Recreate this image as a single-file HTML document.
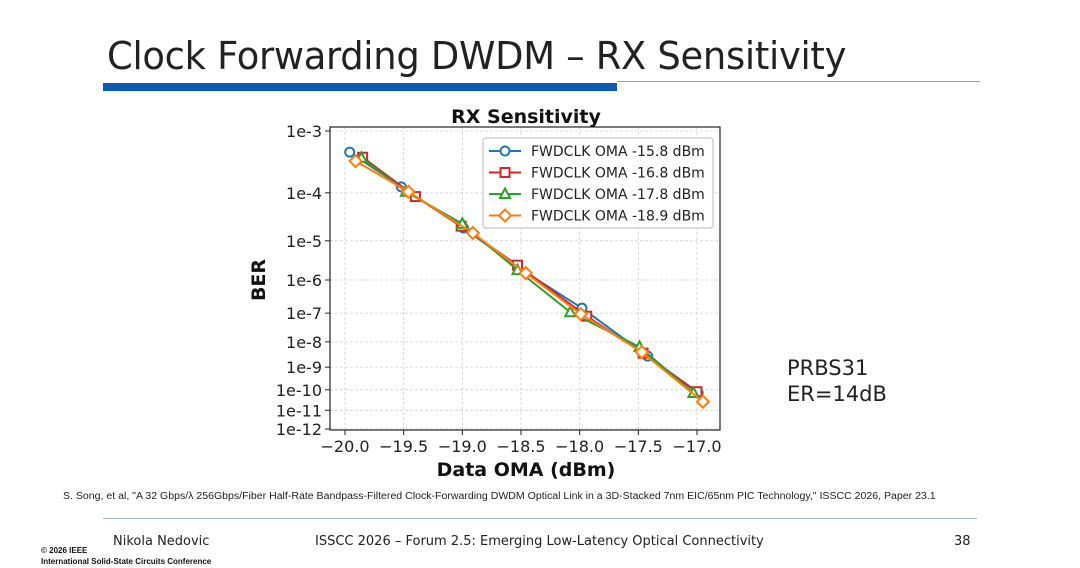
<!DOCTYPE html>
<html><head><meta charset="utf-8">
<style>
body{margin:0;width:1080px;height:568px;background:#fff;overflow:hidden;font-family:"Liberation Sans","DejaVu Sans",sans-serif;position:relative}
.a{position:absolute;white-space:nowrap}
</style></head><body>
<div class="a" style="left:107px;top:34px;font-size:38px;color:#222;font-family:'DejaVu Sans',sans-serif;letter-spacing:-0.3px;transform:scaleX(0.97);transform-origin:left">Clock Forwarding DWDM – RX Sensitivity</div>
<div class="a" style="left:103px;top:83px;width:514px;height:8px;background:#0a5cb8"></div>
<div class="a" style="left:617px;top:81px;width:363px;height:1px;background:#8aa6c4"></div>
<svg class="a" style="left:0;top:0" width="1080" height="568">
<g id="grid"></g><g id="axes"></g><g id="series"></g><g id="legend"></g>
</svg>
<div class="a" style="left:787px;top:355px;font-size:21px;color:#222;font-family:'DejaVu Sans',sans-serif;line-height:26px">PRBS31<br>ER=14dB</div>
<div class="a" style="left:63px;top:491px;font-size:10px;color:#222;transform:scaleX(1.055);transform-origin:left">S. Song, et al, "A 32 Gbps/λ 256Gbps/Fiber Half-Rate Bandpass-Filtered Clock-Forwarding DWDM Optical Link in a 3D-Stacked 7nm EIC/65nm PIC Technology," ISSCC 2026, Paper 23.1</div>
<div class="a" style="left:103px;top:518px;width:874px;height:1px;background:#9fb3c8"></div>
<div class="a" style="left:113px;top:534px;font-size:13px;color:#222;font-family:'DejaVu Sans',sans-serif">Nikola Nedovic</div>
<div class="a" style="left:315px;top:534px;font-size:13px;color:#222;font-family:'DejaVu Sans',sans-serif">ISSCC 2026 – Forum 2.5: Emerging Low-Latency Optical Connectivity</div>
<div class="a" style="left:954px;top:534px;font-size:13px;color:#222;font-family:'DejaVu Sans',sans-serif">38</div>
<div class="a" style="left:41px;top:545px;font-size:8px;font-weight:bold;color:#111;line-height:11px">© 2026 IEEE<br>International Solid-State Circuits Conference</div>
<script>
const xTicks=[-20.0,-19.5,-19.0,-18.5,-18.0,-17.5,-17.0];
const xTickLabels=["−20.0","−19.5","−19.0","−18.5","−18.0","−17.5","−17.0"];
const yTicks=[-3,-4,-5,-6,-7,-8,-9,-10,-11,-12];
const yTickLabels=["1e-3","1e-4","1e-5","1e-6","1e-7","1e-8","1e-9","1e-10","1e-11","1e-12"];
const seriesNames=["FWDCLK OMA -15.8 dBm","FWDCLK OMA -16.8 dBm","FWDCLK OMA -17.8 dBm","FWDCLK OMA -18.9 dBm"];
const x158=[-19.96,-19.52,-18.99,-18.53,-17.98,-17.42,-16.99];
const ber158=[-3.31,-3.89,-4.71,-5.65,-6.84,-8.55,-10.15];
const x168=[-19.85,-19.40,-19.01,-18.53,-17.94,-17.46,-17.00];
const ber168=[-3.39,-4.07,-4.67,-5.60,-7.10,-8.43,-10.09];
const x178=[-19.86,-19.48,-19.00,-18.53,-18.08,-17.49,-17.03];
const ber178=[-3.40,-3.98,-4.62,-5.73,-6.97,-8.19,-10.15];
const x189=[-19.91,-19.46,-18.91,-18.46,-17.99,-17.47,-16.95];
const ber189=[-3.45,-3.98,-4.82,-5.81,-7.03,-8.39,-10.57];

const NS="http://www.w3.org/2000/svg";
const PL=330,PR=720,PT=127,PB=430;
function xs(v){return 345+(v+20)*(352/3);}
function ys(e){const L=Math.log10(-e);return 131+(L-Math.log10(3))/(Math.log10(12)-Math.log10(3))*298;}
function mk(p,t,a){const el=document.createElementNS(NS,t);for(const k in a)el.setAttribute(k,a[k]);p.appendChild(el);return el;}
const G=document.getElementById('grid'),A=document.getElementById('axes'),S=document.getElementById('series'),LG=document.getElementById('legend');
mk(G,'rect',{x:PL,y:PT,width:PR-PL,height:PB-PT,fill:'#fff'});
xTicks.forEach((v,i)=>{const x=xs(v);
 const g=mk(G,'line',{x1:x,x2:x,y1:PT,y2:PB,stroke:'#d0d0d0','stroke-dasharray':'3,2','stroke-width':0.8});
 
 mk(A,'line',{x1:x,x2:x,y1:PB,y2:PB+5,stroke:'#222'});
 const t=mk(A,'text',{x:x,y:PB+22,'text-anchor':'middle','font-size':16,fill:'#222','font-family':'DejaVu Sans, sans-serif'});t.textContent=xTickLabels[i];
 });
yTicks.forEach((v,i)=>{const y=ys(v);
 const g=mk(G,'line',{x1:PL,x2:PR,y1:y,y2:y,stroke:'#d0d0d0','stroke-dasharray':'3,2','stroke-width':0.8});
 
 mk(A,'line',{x1:PL-5,x2:PL,y1:y,y2:y,stroke:'#222'});
 const t=mk(A,'text',{x:PL-8,y:y+6,'text-anchor':'end','font-size':16,fill:'#222','font-family':'DejaVu Sans, sans-serif'});t.textContent=yTickLabels[i];
 });
const fr=mk(A,'rect',{x:PL,y:PT,width:PR-PL,height:PB-PT,fill:'none',stroke:'#222','stroke-width':1.2});

let t=mk(A,'text',{x:526,y:123,'text-anchor':'middle','font-size':19,'font-weight':'bold',fill:'#111','font-family':'DejaVu Sans, sans-serif'});t.textContent='RX Sensitivity';

t=mk(A,'text',{x:526,y:476,'text-anchor':'middle','font-size':19,'font-weight':'bold',fill:'#111','font-family':'DejaVu Sans, sans-serif'});t.textContent='Data OMA (dBm)';

t=mk(A,'text',{x:0,y:0,'text-anchor':'middle','font-size':19,'font-weight':'bold',fill:'#111','font-family':'DejaVu Sans, sans-serif',transform:'translate(265,280) rotate(-90)'});t.textContent='BER';

const colors=['#1f77b4','#d62728','#2ca02c','#ff7f0e'];
const markers=['circle','square','triangle','diamond'];
function marker(p,type,x,y,c){
 if(type==='circle')return mk(p,'circle',{cx:x,cy:y,r:4.5,fill:'#fff',stroke:c,'stroke-width':2});
 if(type==='square')return mk(p,'rect',{x:x-4.5,y:y-4.5,width:9,height:9,fill:'#fff',stroke:c,'stroke-width':2});
 if(type==='triangle')return mk(p,'polygon',{points:`${x},${y-5.5} ${x-5},${y+4} ${x+5},${y+4}`,fill:'#fff',stroke:c,'stroke-width':2});
 return mk(p,'polygon',{points:`${x},${y-6} ${x+6},${y} ${x},${y+6} ${x-6},${y}`,fill:'#fff',stroke:c,'stroke-width':2});}
const XS=[x158,x168,x178,x189],YS=[ber158,ber168,ber178,ber189];
XS.forEach((xa,s)=>{const pts=xa.map((v,i)=>xs(v)+','+ys(YS[s][i])).join(' ');
 const l=mk(S,'polyline',{points:pts,fill:'none',stroke:colors[s],'stroke-width':2});
 
 xa.forEach((v,i)=>{const m=marker(S,markers[s],xs(v),ys(YS[s][i]),colors[s]);
  });});
const lb=mk(LG,'rect',{x:483,y:138,width:230,height:90,rx:3,fill:'#fff',stroke:'#bbb','fill-opacity':0.9});

seriesNames.forEach((n,s)=>{const y=151+s*21.5;
 mk(LG,'line',{x1:489,x2:521,y1:y,y2:y,stroke:colors[s],'stroke-width':2});
 marker(LG,markers[s],505,y,colors[s]);
 const tx=mk(LG,'text',{x:531,y:y+5,'font-size':14,fill:'#222','font-family':'DejaVu Sans, sans-serif'});tx.textContent=n;
 });
</script>
</body></html>
